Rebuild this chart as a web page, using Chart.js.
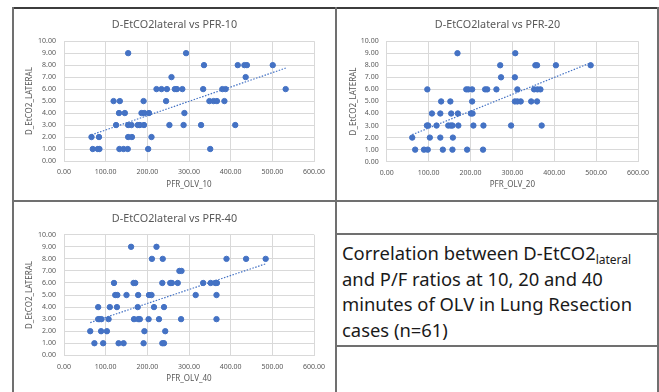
<!DOCTYPE html>
<html>
<head>
<meta charset="utf-8">
<script src="https://cdn.jsdelivr.net/npm/chart.js@4/dist/chart.umd.min.js"></script>
<style>
html, body { margin: 0; padding: 0; background: #fff; }
#pagina { position: relative; width: 659px; height: 392px; overflow: hidden; }
.cv { position: absolute; }
.ln { position: absolute; background: #707070; z-index: 2; }
#nota { position: absolute; left: 342px; top: 240px; font-family: "Noto Sans"; font-size: 18.4px;
        line-height: 25.5px; color: #1a1a1a; white-space: nowrap; }
#nota sub { font-size: 12px; vertical-align: -4px; line-height: 0; }
</style>
</head>
<body>
<div id="pagina">
    <canvas id="g10" class="cv" style="left:14px;top:9px;width:321px;height:191px"></canvas>
    <canvas id="g20" class="cv" style="left:338px;top:9px;width:319px;height:191px"></canvas>
    <canvas id="g40" class="cv" style="left:14px;top:203px;width:321px;height:189px"></canvas>

    <!-- marco de la tabla -->
    <div class="ln" style="left:12px;top:7px;width:647px;height:2px;background:#3c3c3c"></div>
    <div class="ln" style="left:12px;top:7px;width:2px;height:385px"></div>
    <div class="ln" style="left:335px;top:7px;width:2px;height:385px"></div>
    <div class="ln" style="left:657px;top:7px;width:2px;height:385px"></div>
    <div class="ln" style="left:12px;top:200px;width:647px;height:2px"></div>
    <div class="ln" style="left:335px;top:233px;width:324px;height:2px"></div>
    <div class="ln" style="left:335px;top:345px;width:324px;height:2px"></div>

    <div id="nota">Correlation between D-EtCO2<sub>lateral</sub><br>and P/F ratios at 10, 20 and 40<br>minutes of OLV in Lung Resection<br>cases (n=61)</div>
</div>

<script>
// valores
var x10 = [154,293, 336,417,433,439,501, 436,258, 222,234,247,266,271,284,334,380,388,532,
           119,134,191,245,349,359,367,385, 132,146,186,193,204,289,
           125,154,162,177,182,192,253,287,329,411, 66,84,154,163,210,
           69,81,85,133,143,153,202,351]
var y10 = [9,9, 8,8,8,8,8, 7,7, 6,6,6,6,6,6,6,6,6,6,
           5,5,5,5,5,5,5,5, 4,4,4,4,4,4,
           3,3,3,3,3,3,3,3,3,3, 2,2,2,2,2,
           1,1,1,1,1,1,1,1]

var x20 = [169,307, 271,355,359,404,487, 273,306, 97,190,195,204,235,240,262,312,352,360,367,
           130,152,204,306,312,320,345,359, 108,128,154,170,201,205,
           96,99,119,147,153,157,171,207,231,297,370, 61,103,128,158,
           68,89,98,134,157,192,230]
var y20 = [9,9, 8,8,8,8,8, 7,7, 6,6,6,6,6,6,6,6,6,6,6,
           5,5,5,5,5,5,5,5, 4,4,4,4,4,4,
           3,3,3,3,3,3,3,3,3,3,3, 2,2,2,2,
           1,1,1,1,1,1,1]

var x40 = [161,222, 211,237,390,437,484, 277,282, 120,167,171,236,255,259,273,334,352,363,367,
           123,128,150,178,204,210,316,366, 82,110,127,177,216,240,
           82,86,90,107,168,178,182,203,228,281,366, 63,89,103,193,243,
           73,94,131,143,191,236,240]
var y40 = [9,9, 8,8,8,8,8, 7,7, 6,6,6,6,6,6,6,6,6,6,6,
           5,5,5,5,5,5,5,5, 4,4,4,4,4,4,
           3,3,3,3,3,3,3,3,3,3,3, 2,2,2,2,2,
           1,1,1,1,1,1,1]

var ticksX = [0,100,200,300,400,500,600]
var ticksY = [0,1,2,3,4,5,6,7,8,9,10]

var azul = '#4472C4'
var gris = '#595959'
var rejilla = '#d9d9d9'

// recta de minimos cuadrados (linea de tendencia de Excel)
function tendencia(xs, ys) {
    var n = xs.length, sx = 0, sy = 0, sxy = 0, sxx = 0
    for (var i = 0; i < n; i++) {
        sx += xs[i]; sy += ys[i]; sxy += xs[i] * ys[i]; sxx += xs[i] * xs[i]
    }
    var m = (n * sxy - sx * sy) / (n * sxx - sx * sx)
    var b = (sy - m * sx) / n
    var x1 = Math.min.apply(null, xs), x2 = Math.max.apply(null, xs)
    return [{x: x1, y: m * x1 + b}, {x: x2, y: m * x2 + b}]
}

function generarGrafica(id, xs, ys, titulo, ejeX, g) {
    var puntos = xs.map(function (v, i) { return {x: v, y: ys[i]} })
    return new Chart(id, {
        type: 'scatter',
        data: {
            datasets: [{
                data: puntos,
                backgroundColor: azul,
                borderColor: azul,
                pointRadius: 2.7,
                pointHoverRadius: 2.7
            }, {
                type: 'line',
                data: tendencia(xs, ys),
                borderColor: azul,
                borderWidth: 1.2,
                borderDash: [1.5, 1.5],
                pointRadius: 0,
                fill: false
            }]
        },
        options: {
            responsive: false,
            animation: false,
            events: [],
            layout: {padding: 0},
            plugins: {
                legend: {display: false},
                tooltip: {enabled: false},
                title: {
                    display: true,
                    text: titulo,
                    color: gris,
                    font: {family: 'Noto Sans', size: 10.8, weight: 'normal'},
                    padding: {top: g.tt, bottom: g.tb}
                }
            },
            scales: {
                x: {
                    type: 'linear', min: 0, max: 600,
                    afterBuildTicks: function (s) { s.ticks = ticksX.map(function (v) { return {value: v} }) },
                    afterFit: function (s) { s.height = g.xh },
                    grid: {color: rejilla, drawTicks: false},
                    border: {color: rejilla},
                    ticks: {color: gris, font: {family: 'Noto Sans', size: 7}, padding: 7,
                            callback: function (v) { return v.toFixed(2) }},
                    title: {display: true, text: ejeX, color: gris,
                            font: {family: 'Noto Sans', size: 8}, padding: {top: 0, bottom: g.xt}}
                },
                y: {
                    type: 'linear', min: 0, max: 10,
                    afterBuildTicks: function (s) { s.ticks = ticksY.map(function (v) { return {value: v} }) },
                    afterFit: function (s) { s.width = g.yw },
                    grid: {color: rejilla, drawTicks: false},
                    border: {color: rejilla},
                    ticks: {color: gris, font: {family: 'Noto Sans', size: 7}, padding: 8,
                            callback: function (v) { return v.toFixed(2) }},
                    title: {display: true, text: 'D_EtCO2_LATERAL', color: gris,
                            font: {family: 'Noto Sans', size: 8}, padding: {top: g.yt, bottom: 0}}
                },
                margen: {
                    type: 'linear', position: 'right', display: true,
                    afterFit: function (s) { s.width = g.der },
                    grid: {display: false},
                    border: {display: false},
                    ticks: {display: false}
                }
            }
        }
    })
}

generarGrafica('g10', x10, y10, 'D-EtCO2lateral vs PFR-10', 'PFR_OLV_10',
    {tt: 9.5, tb: 9.7, xh: 39, xt: 10.2, yw: 50, yt: 11.2, der: 21})
generarGrafica('g20', x20, y20, 'D-EtCO2lateral vs PFR-20', 'PFR_OLV_20',
    {tt: 9.5, tb: 9.7, xh: 38.3, xt: 10.2, yw: 48.7, yt: 10.5, der: 19})
generarGrafica('g40', x40, y40, 'D-EtCO2lateral vs PFR-40', 'PFR_OLV_40',
    {tt: 9.2, tb: 9.6, xh: 36.7, xt: 8.2, yw: 50, yt: 11.2, der: 21})
</script>
</body>
</html>
